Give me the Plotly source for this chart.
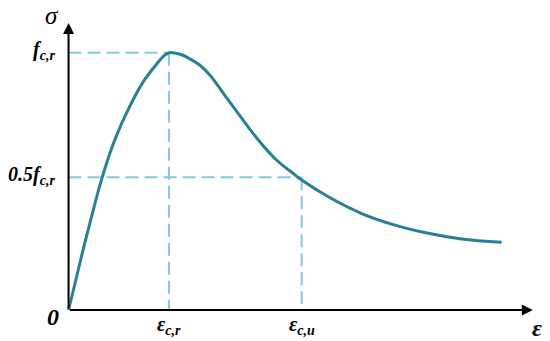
import plotly.graph_objects as go

# strain (in units of eps_c,r) and stress (in units of f_c,r)
strain = [0.0, 0.065, 0.144, 0.228, 0.318, 0.428, 0.512, 0.579, 0.662, 0.761,
          0.861, 0.943, 1.0, 1.11, 1.176, 1.308, 1.408, 1.574, 1.739, 1.905,
          2.072, 2.237, 2.320, 2.585, 2.917, 3.249, 3.580, 3.912, 4.310]
stress = [0.0, 0.104, 0.233, 0.361, 0.493, 0.628, 0.710, 0.767, 0.832, 0.897,
          0.948, 0.986, 1.0, 0.994, 0.983, 0.951, 0.912, 0.824, 0.737, 0.653,
          0.582, 0.530, 0.505, 0.440, 0.375, 0.330, 0.298, 0.276, 0.263]

# reference marks
x_ticks = [1.0, 2.32]
x_labels = ["<b><i>ε<sub>c,r</sub></i></b>", "<b><i>ε<sub>c,u</sub></i></b>"]
y_ticks = [1.0, 0.516]
y_labels = ["<b><i>f<sub>c,r</sub></i></b>", "<b><i>0.5f<sub>c,r</sub></i></b>"]
x_axis_end = 4.62
y_axis_end = 1.115

CURVE = "#2a7f98"
DASH = "#86c8dc"
FONT = "Liberation Serif"

fig = go.Figure()
fig.add_trace(go.Scatter(x=strain, y=stress, mode="lines",
                         line=dict(color=CURVE, width=3, shape="spline", smoothing=1.0),
                         hoverinfo="skip", showlegend=False))

shapes = []
for xt, yt in zip(x_ticks, y_ticks):
    shapes.append(dict(type="line", xref="x", yref="y", x0=0, y0=yt, x1=xt, y1=yt,
                       line=dict(color=DASH, width=2, dash="13px,6px"), layer="below"))
    shapes.append(dict(type="line", xref="x", yref="y", x0=xt, y0=yt, x1=xt, y1=0,
                       line=dict(color=DASH, width=2, dash="13px,6px"), layer="below"))

annotations = []
# axes with arrows
annotations.append(dict(x=x_axis_end, y=0, ax=0, ay=0, xref="x", yref="y", axref="x", ayref="y",
                        text="", showarrow=True, arrowhead=2, arrowsize=1.1, arrowwidth=2,
                        arrowcolor="black"))
annotations.append(dict(x=0, y=y_axis_end, ax=0, ay=0, xref="x", yref="y", axref="x", ayref="y",
                        text="", showarrow=True, arrowhead=2, arrowsize=1.1, arrowwidth=2,
                        arrowcolor="black"))
for xt, lab in zip(x_ticks, x_labels):
    annotations.append(dict(x=xt, y=0, xref="x", yref="y", text=lab, showarrow=False,
                            xanchor="center", yanchor="middle", yshift=-15,
                            font=dict(family=FONT, size=20, color="black")))
for yt, lab in zip(y_ticks, y_labels):
    annotations.append(dict(x=0, y=yt, xref="x", yref="y", text=lab, showarrow=False,
                            xanchor="right", yanchor="middle", xshift=-12, yshift=2,
                            font=dict(family=FONT, size=20, color="black")))
annotations.append(dict(x=0, y=0, xref="x", yref="y", text="<b><i>0</i></b>", showarrow=False,
                        xanchor="right", yanchor="middle", xshift=-8, yshift=-7,
                        font=dict(family=FONT, size=24, color="black")))
annotations.append(dict(x=0, y=y_axis_end, xref="x", yref="y", text="<i>σ</i>", showarrow=False,
                        xanchor="right", yanchor="bottom", xshift=-8, yshift=-8,
                        font=dict(family=FONT, size=25, color="black")))
annotations.append(dict(x=x_axis_end, y=0, xref="x", yref="y", text="<b><i>ε</i></b>", showarrow=False,
                        xanchor="center", yanchor="middle", xshift=4, yshift=-18,
                        font=dict(family=FONT, size=24, color="black")))

fig.update_layout(
    width=550, height=341,
    margin=dict(l=0, r=0, t=0, b=0),
    paper_bgcolor="white", plot_bgcolor="white",
    xaxis=dict(range=[-0.682, 4.791], visible=False, fixedrange=True),
    yaxis=dict(range=[-0.1205, 1.2048], visible=False, fixedrange=True),
    shapes=shapes, annotations=annotations,
)
fig.write_html("out.html", config={"displayModeBar": False},
               post_script="document.body.style.margin='0px';document.body.style.overflow='hidden';")
